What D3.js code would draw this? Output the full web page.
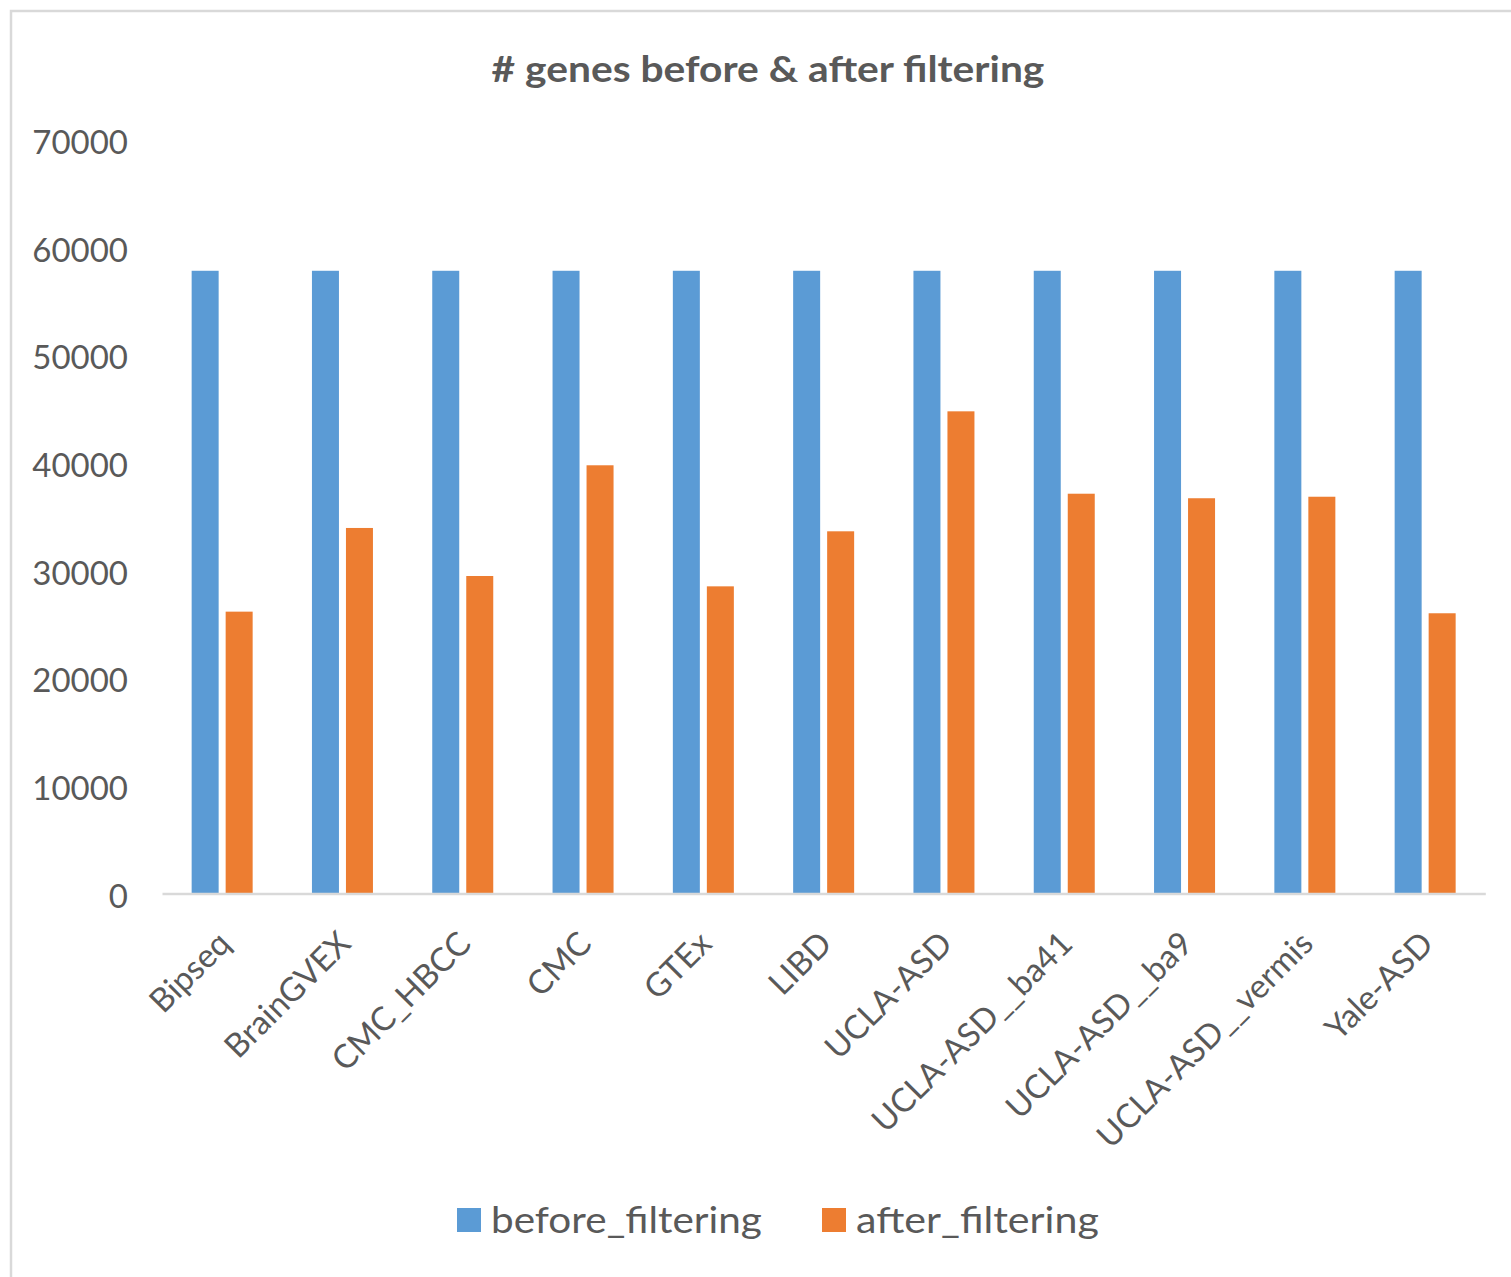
<!DOCTYPE html>
<html>
<head>
<meta charset="utf-8">
<script src="https://cdn.jsdelivr.net/npm/d3@7"></script>
<style>
  html, body { margin: 0; padding: 0; background: #fff; }
  svg { display: block; }
  text { font-family: Lato, "Open Sans", sans-serif; fill: #595959; }
</style>
</head>
<body>
<svg id="chart" width="1511" height="1277"></svg>
<script>
const title = "# genes before & after filtering";
const categories = ["Bipseq", "BrainGVEX", "CMC_HBCC", "CMC", "GTEx", "LIBD", "UCLA-ASD",
  "UCLA-ASD__ba41", "UCLA-ASD__ba9", "UCLA-ASD__vermis", "Yale-ASD"];
const seriesNames = ["before_filtering", "after_filtering"];
const beforeFiltering = [57820, 57820, 57820, 57820, 57820, 57820, 57820, 57820, 57820, 57820, 57820];
const afterFiltering = [26170, 33940, 29480, 39760, 28520, 33630, 44770, 37120, 36700, 36840, 26020];
const yTicks = [0, 10000, 20000, 30000, 40000, 50000, 60000, 70000];
const colors = ["#5b9bd5", "#ed7d31"];

const svg = d3.select("#chart");

// outer chart border (right/bottom edges fall outside the picture)
svg.append("rect")
  .attr("x", 11).attr("y", 11).attr("width", 1530).attr("height", 1300)
  .attr("fill", "none").attr("stroke", "#d9d9d9").attr("stroke-width", 2.5);

const plot = { left: 162, right: 1485.3, top: 139.6, bottom: 893.5 };

const y = d3.scaleLinear().domain([0, 70000]).range([plot.bottom, plot.top]);
const x0 = d3.scaleBand().domain(categories).range([plot.left, plot.right]).paddingInner(0).paddingOuter(0);
const bw = x0.bandwidth();
const x1 = d3.scaleBand().domain(seriesNames).range([bw / 2 - 30.5, bw / 2 + 30.5]).paddingInner(0.206).paddingOuter(0);

const data = categories.map((c, i) => ({ cat: c, values: [beforeFiltering[i], afterFiltering[i]] }));

// horizontally stretch a text node so it spans a given width (keeps glyph height)
function stretchTo(sel, targetWidth, anchorX) {
  const w = sel.node().getComputedTextLength();
  const k = targetWidth / w;
  sel.attr("transform", `translate(${anchorX},0) scale(${k},1) translate(${-anchorX},0)`);
}

// title
const t = svg.append("text")
  .attr("x", 768).attr("y", 82)
  .attr("text-anchor", "middle")
  .style("font-size", "37px").style("font-weight", "bold")
  .text(title);
stretchTo(t, 553, 768.5);

// y axis (labels only)
const yAxis = d3.axisLeft(y).tickValues(yTicks).tickSize(0).tickPadding(34).tickFormat(d3.format("d"));
const gy = svg.append("g").attr("transform", `translate(${plot.left},0)`).call(yAxis);
gy.select(".domain").remove();
gy.selectAll("text").style("font-size", "33px").style("font-family", "Lato, sans-serif")
  .attr("fill", "#595959").attr("dy", "0.42em");

// bars
const groups = svg.append("g").selectAll("g").data(data).join("g")
  .attr("transform", d => `translate(${x0(d.cat)},0)`);
groups.selectAll("rect").data(d => d.values.map((v, j) => ({ key: seriesNames[j], v, j })))
  .join("rect")
  .attr("x", d => x1(d.key))
  .attr("width", x1.bandwidth())
  .attr("y", d => y(d.v))
  .attr("height", d => y(0) - y(d.v))
  .attr("fill", d => colors[d.j]);

// x axis
const xAxis = d3.axisBottom(x0).tickSize(0).tickPadding(0);
const gx = svg.append("g").attr("transform", `translate(0,${plot.bottom})`).call(xAxis);
gx.select(".domain").attr("stroke", "#d9d9d9").attr("stroke-width", 2.5);
gx.selectAll("text")
  .style("font-size", "33px").style("font-family", "Lato, sans-serif").attr("fill", "#595959")
  .attr("text-anchor", "end")
  .attr("dy", "0.35em")
  .attr("transform", "translate(2,44) rotate(-45)");

// legend
const legendItems = [
  { name: seriesNames[0], color: colors[0], x: 457, w: 271 },
  { name: seriesNames[1], color: colors[1], x: 822, w: 243 }
];
const lg = svg.append("g");
legendItems.forEach(it => {
  lg.append("rect").attr("x", it.x).attr("y", 1208).attr("width", 24).attr("height", 24).attr("fill", it.color);
  const tx = lg.append("text").attr("x", it.x + 34).attr("y", 1233).style("font-size", "37px").text(it.name);
  stretchTo(tx, it.w, it.x + 34);
});
</script>
</body>
</html>
